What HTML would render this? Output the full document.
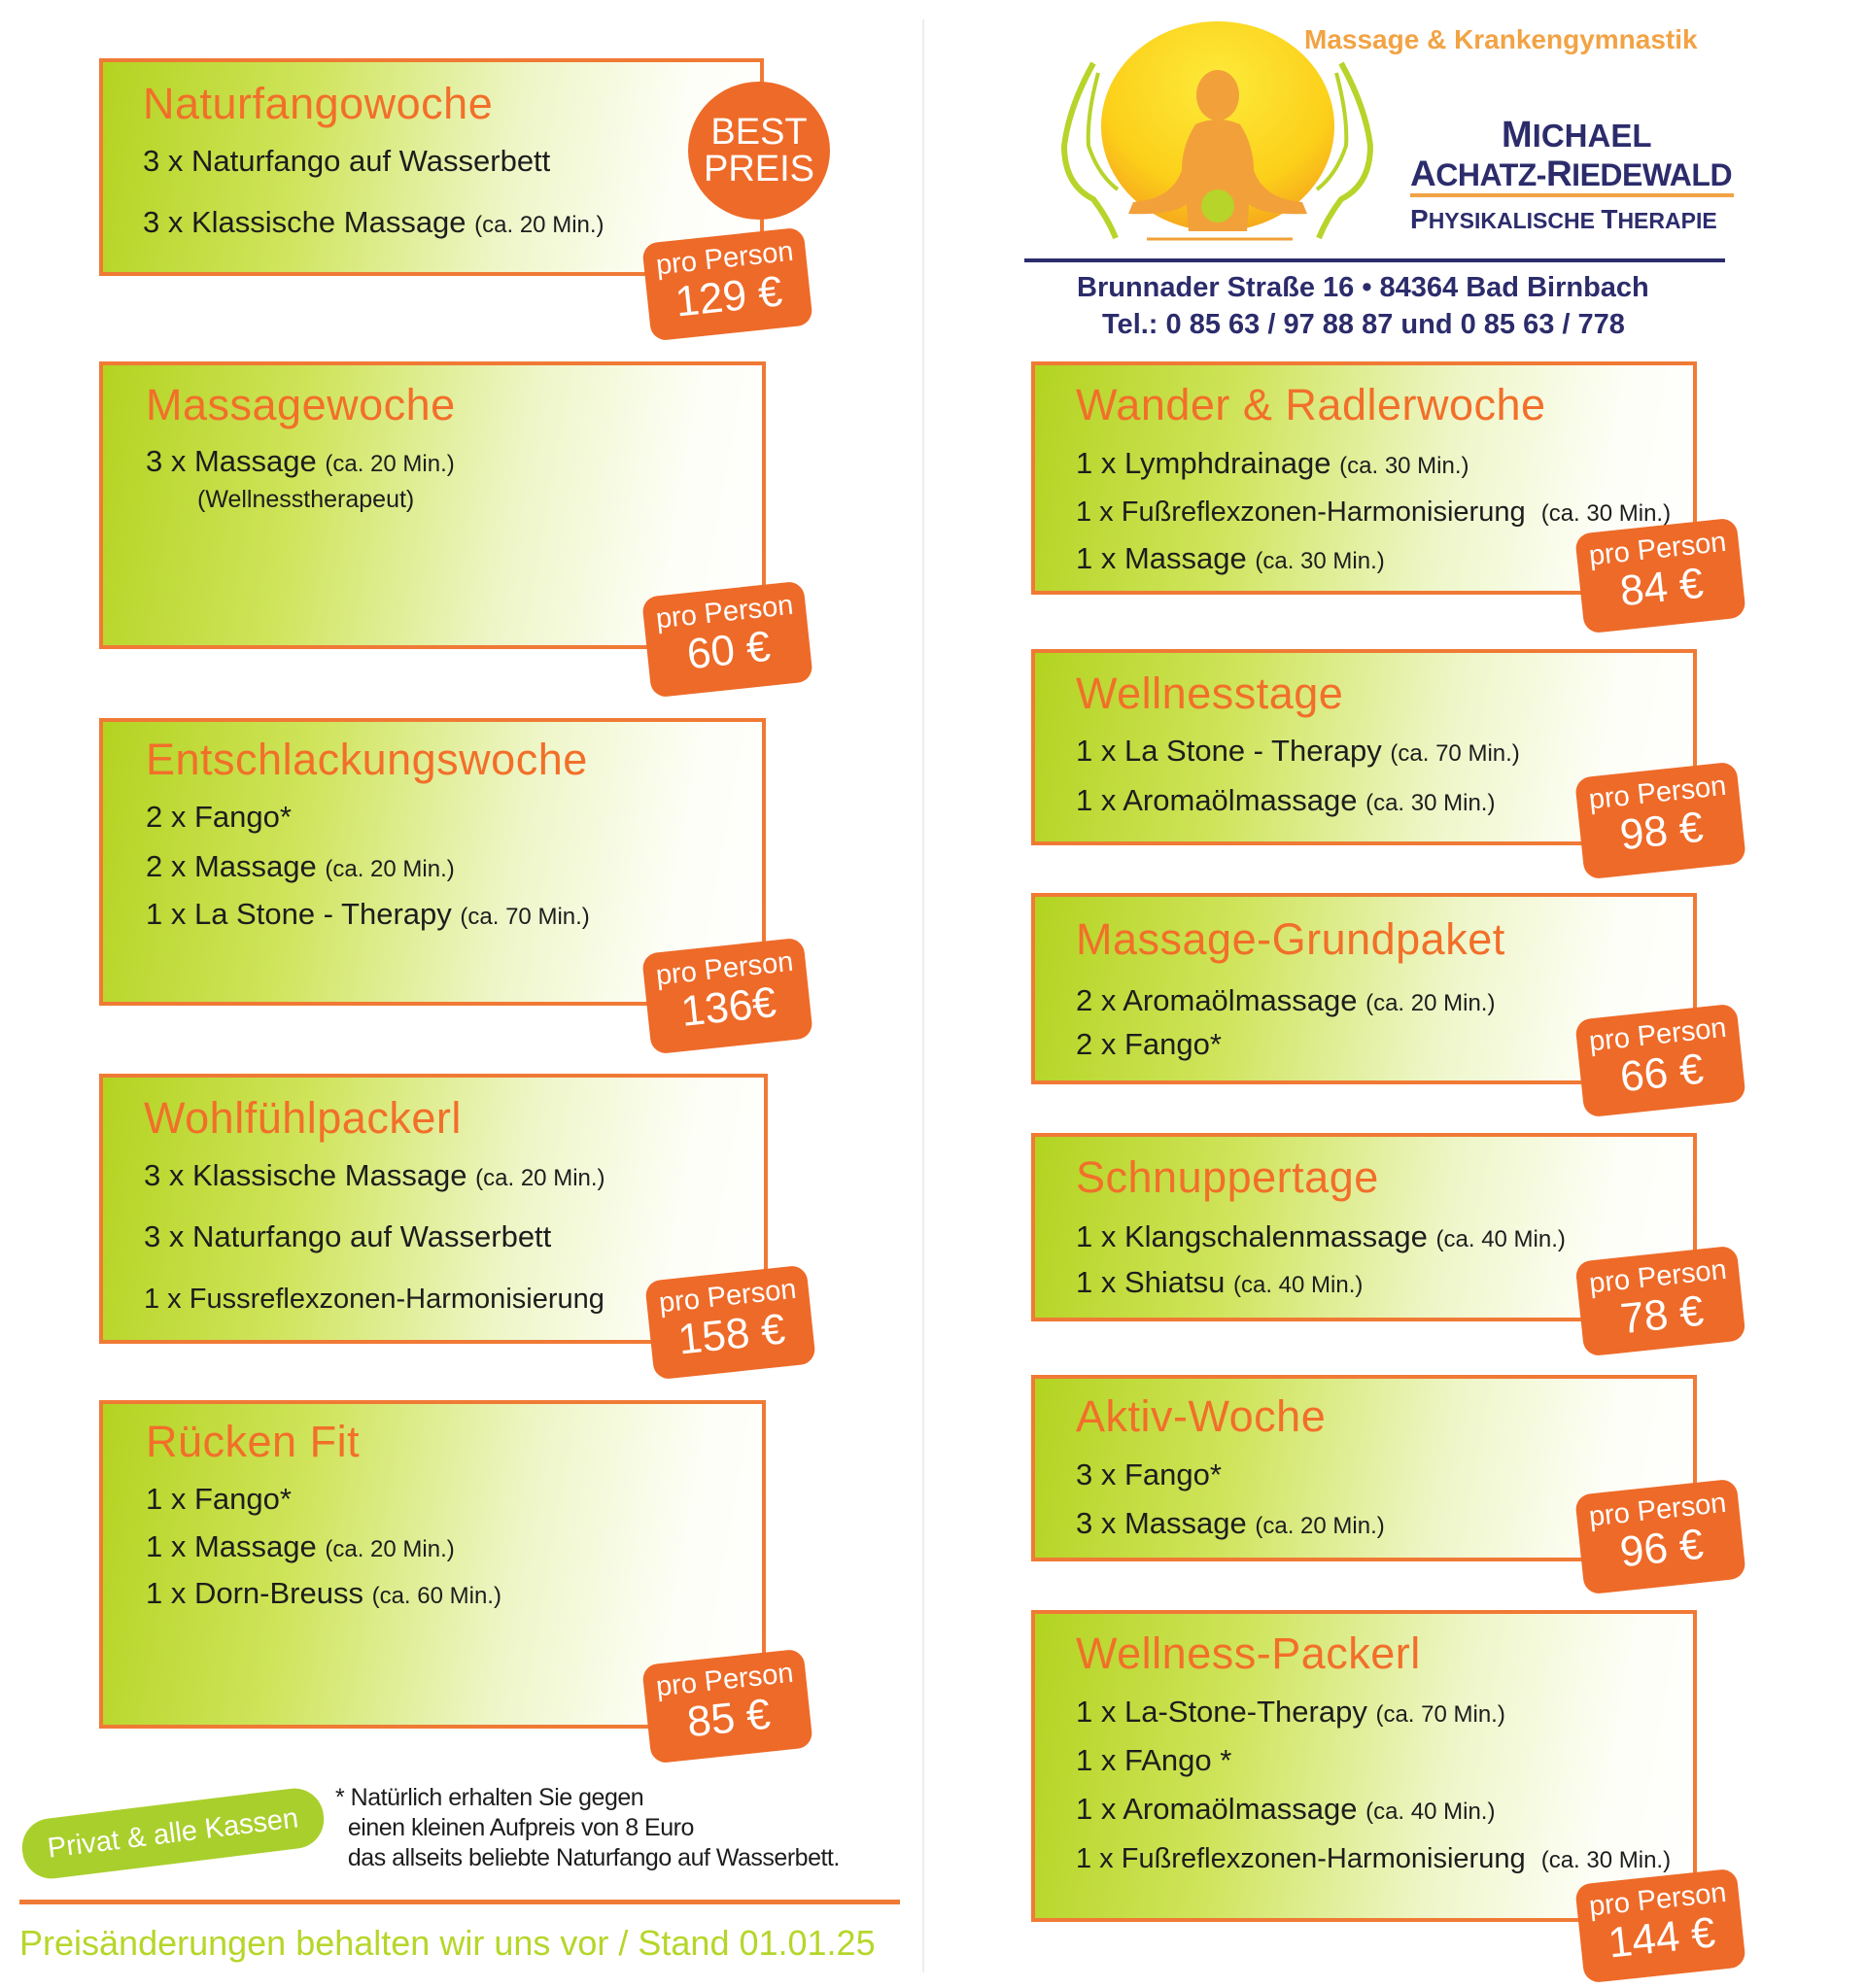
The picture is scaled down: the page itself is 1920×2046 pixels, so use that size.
<!DOCTYPE html>
<html><head><meta charset="utf-8"><style>
body{margin:0;background:#fff;}
#pg{position:relative;width:1920px;height:2046px;overflow:hidden;background:#fff;font-family:"Liberation Sans",sans-serif;}
.box{position:absolute;border:4px solid #f07a35;box-sizing:border-box;background:linear-gradient(100deg,#b3d320 0%,#cfe45a 30%,#eef6c8 62%,#fdfef6 85%,#fff 100%);}
.t{position:absolute;font-size:45px;line-height:48px;color:#f26f2a;white-space:nowrap;letter-spacing:0.5px;}
.i{position:absolute;font-size:31px;line-height:32px;color:#1d1d1d;white-space:nowrap;}
.i small{font-size:24px;}
.tag{position:absolute;background:#ee6a28;border-radius:16px;color:#fff;text-align:center;transform:rotate(-6deg);box-sizing:border-box;padding-top:8px;}
.tag .p{font-size:29px;line-height:32px;}
.tag .v{font-size:44px;line-height:48px;}
.nv{position:absolute;color:#2c2c6c;font-weight:bold;white-space:nowrap;}
</style></head><body><div id="pg">
<div style="position:absolute;left:949px;top:20px;width:2px;height:2010px;background:#eeeeee"></div>

<div class="box" style="left:102px;top:60px;width:684px;height:224px"></div>
<div class="t" style="left:147px;top:83px">Naturfangowoche</div>
<div class="i" style="left:147px;top:150px">3 x Naturfango auf Wasserbett</div>
<div class="i" style="left:147px;top:213px">3 x Klassische Massage <small>(ca. 20 Min.)</small></div>
<div style="position:absolute;left:708px;top:84px;width:146px;height:142px;border-radius:50%;background:#ee6a28;color:#fff;text-align:center;font-size:38px;line-height:38px;padding-top:33px;box-sizing:border-box">BEST<br>PREIS</div>
<div class="tag" style="left:665px;top:242px;width:167px;height:101px"><div class="p">pro Person</div><div class="v">129 €</div></div>

<div class="box" style="left:102px;top:372px;width:686px;height:296px"></div>
<div class="t" style="left:150px;top:393px">Massagewoche</div>
<div class="i" style="left:150px;top:459px">3 x Massage <small>(ca. 20 Min.)</small></div>
<div class="i" style="left:203px;top:498px;font-size:25px">(Wellnesstherapeut)</div>
<div class="tag" style="left:665px;top:606px;width:167px;height:104px"><div class="p">pro Person</div><div class="v">60 €</div></div>

<div class="box" style="left:102px;top:739px;width:686px;height:296px"></div>
<div class="t" style="left:150px;top:758px">Entschlackungswoche</div>
<div class="i" style="left:150px;top:825px">2 x Fango*</div>
<div class="i" style="left:150px;top:876px">2 x Massage <small>(ca. 20 Min.)</small></div>
<div class="i" style="left:150px;top:925px">1 x La Stone - Therapy <small>(ca. 70 Min.)</small></div>
<div class="tag" style="left:665px;top:973px;width:167px;height:104px"><div class="p">pro Person</div><div class="v">136€</div></div>

<div class="box" style="left:102px;top:1105px;width:688px;height:278px"></div>
<div class="t" style="left:148px;top:1127px">Wohlfühlpackerl</div>
<div class="i" style="left:148px;top:1194px">3 x Klassische Massage <small>(ca. 20 Min.)</small></div>
<div class="i" style="left:148px;top:1257px">3 x Naturfango auf Wasserbett</div>
<div class="i" style="left:148px;top:1321px;font-size:29px">1 x Fussreflexzonen-Harmonisierung</div>
<div class="tag" style="left:668px;top:1310px;width:167px;height:102px"><div class="p">pro Person</div><div class="v">158 €</div></div>

<div class="box" style="left:102px;top:1441px;width:686px;height:338px"></div>
<div class="t" style="left:150px;top:1460px">Rücken Fit</div>
<div class="i" style="left:150px;top:1527px">1 x Fango*</div>
<div class="i" style="left:150px;top:1576px">1 x Massage <small>(ca. 20 Min.)</small></div>
<div class="i" style="left:150px;top:1624px">1 x Dorn-Breuss <small>(ca. 60 Min.)</small></div>
<div class="tag" style="left:665px;top:1705px;width:167px;height:102px"><div class="p">pro Person</div><div class="v">85 €</div></div>

<div style="position:absolute;left:22px;top:1856px;width:312px;height:62px;border-radius:30px;background:#a9cf2c;color:#fff;font-size:29px;line-height:62px;text-align:center;transform:rotate(-7deg)">Privat &amp; alle Kassen</div>
<div style="position:absolute;left:345px;top:1835px;font-size:25px;line-height:31px;color:#1d1d1d;white-space:nowrap;letter-spacing:-0.5px">* Natürlich erhalten Sie gegen<br>&nbsp;&nbsp;einen kleinen Aufpreis von 8 Euro<br>&nbsp;&nbsp;das allseits beliebte Naturfango auf Wasserbett.</div>
<div style="position:absolute;left:20px;top:1955px;width:906px;height:5px;background:#f07a35"></div>
<div style="position:absolute;left:20px;top:1980px;font-size:36px;line-height:40px;color:#b5d62a;white-space:nowrap;letter-spacing:0px">Preisänderungen behalten wir uns vor / Stand 01.01.25</div>

<div style="position:absolute;left:1342px;top:25px;font-size:28px;line-height:32px;color:#f2a344;font-weight:bold;white-space:nowrap">Massage &amp; Krankengymnastik</div>
<svg style="position:absolute;left:1070px;top:0" width="360" height="260" viewBox="1070 0 360 260">
<defs><radialGradient id="sg" cx="50%" cy="30%" r="70%"><stop offset="0" stop-color="#fdea3a"/><stop offset="0.7" stop-color="#fcd01a"/><stop offset="1" stop-color="#f6a81c"/></radialGradient></defs>
<ellipse cx="1253" cy="130" rx="120" ry="108" fill="url(#sg)"/>
<ellipse cx="1253" cy="98" rx="22" ry="26" fill="#f2a03a"/>
<path d="M1230 128 Q1253 118 1276 128 Q1290 150 1290 175 Q1300 205 1340 208 L1345 220 Q1300 222 1285 210 L1283 238 L1223 238 L1221 210 Q1206 222 1161 220 L1166 208 Q1206 205 1216 175 Q1216 150 1230 128Z" fill="#f2a03a"/>
<circle cx="1253" cy="212" r="17" fill="#b6d42a"/>
<line x1="1180" y1="246" x2="1330" y2="246" stroke="#f2a03a" stroke-width="3"/>
<path d="M1125 65 Q1100 110 1095 150 Q1095 190 1125 205 Q1140 225 1148 245" fill="none" stroke="#b6d42a" stroke-width="6"/>
<path d="M1130 75 Q1118 120 1120 150 Q1130 180 1150 195" fill="none" stroke="#b6d42a" stroke-width="4"/>
<path d="M1380 65 Q1405 110 1410 150 Q1410 190 1380 205 Q1365 225 1357 245" fill="none" stroke="#b6d42a" stroke-width="6"/>
<path d="M1375 75 Q1387 120 1385 150 Q1375 180 1355 195" fill="none" stroke="#b6d42a" stroke-width="4"/>
</svg>
<div class="nv" style="left:1545px;top:118px;font-size:33px"><span style="font-size:38px">M</span>ICHAEL</div>
<div class="nv" style="left:1451px;top:158px;font-size:32px;letter-spacing:-0.5px"><span style="font-size:37px">A</span>CHATZ-<span style="font-size:37px">R</span>IEDEWALD</div>
<div style="position:absolute;left:1451px;top:199px;width:333px;height:4px;background:#f2a344"></div>
<div class="nv" style="left:1451px;top:210px;font-size:23px"><span style="font-size:28px">P</span>HYSIKALISCHE <span style="font-size:28px">T</span>HERAPIE</div>
<div style="position:absolute;left:1054px;top:266px;width:721px;height:4px;background:#2c2c6c"></div>
<div class="nv" style="left:1108px;top:280px;font-size:29px">Brunnader Straße 16 • 84364 Bad Birnbach</div>
<div class="nv" style="left:1134px;top:318px;font-size:29px">Tel.: 0 85 63 / 97 88 87 und 0 85 63 / 778</div>

<div class="box" style="left:1061px;top:372px;width:685px;height:240px"></div>
<div class="t" style="left:1107px;top:393px">Wander &amp; Radlerwoche</div>
<div class="i" style="left:1107px;top:461px">1 x Lymphdrainage <small>(ca. 30 Min.)</small></div>
<div class="i" style="left:1107px;top:511px;font-size:29px">1 x Fußreflexzonen-Harmonisierung &nbsp;<small>(ca. 30 Min.)</small></div>
<div class="i" style="left:1107px;top:559px">1 x Massage <small>(ca. 30 Min.)</small></div>
<div class="tag" style="left:1625px;top:541px;width:167px;height:103px"><div class="p">pro Person</div><div class="v">84 €</div></div>

<div class="box" style="left:1061px;top:668px;width:685px;height:202px"></div>
<div class="t" style="left:1107px;top:690px">Wellnesstage</div>
<div class="i" style="left:1107px;top:757px">1 x La Stone - Therapy <small>(ca. 70 Min.)</small></div>
<div class="i" style="left:1107px;top:808px">1 x Aromaölmassage <small>(ca. 30 Min.)</small></div>
<div class="tag" style="left:1625px;top:792px;width:167px;height:105px"><div class="p">pro Person</div><div class="v">98 €</div></div>

<div class="box" style="left:1061px;top:919px;width:685px;height:197px"></div>
<div class="t" style="left:1107px;top:943px">Massage-Grundpaket</div>
<div class="i" style="left:1107px;top:1014px">2 x Aromaölmassage <small>(ca. 20 Min.)</small></div>
<div class="i" style="left:1107px;top:1059px">2 x Fango*</div>
<div class="tag" style="left:1625px;top:1041px;width:167px;height:101px"><div class="p">pro Person</div><div class="v">66 €</div></div>

<div class="box" style="left:1061px;top:1166px;width:685px;height:194px"></div>
<div class="t" style="left:1107px;top:1188px">Schnuppertage</div>
<div class="i" style="left:1107px;top:1257px">1 x Klangschalenmassage <small>(ca. 40 Min.)</small></div>
<div class="i" style="left:1107px;top:1304px">1 x Shiatsu <small>(ca. 40 Min.)</small></div>
<div class="tag" style="left:1625px;top:1290px;width:167px;height:98px"><div class="p">pro Person</div><div class="v">78 €</div></div>

<div class="box" style="left:1061px;top:1415px;width:685px;height:192px"></div>
<div class="t" style="left:1107px;top:1434px">Aktiv-Woche</div>
<div class="i" style="left:1107px;top:1502px">3 x Fango*</div>
<div class="i" style="left:1107px;top:1552px">3 x Massage <small>(ca. 20 Min.)</small></div>
<div class="tag" style="left:1625px;top:1530px;width:167px;height:103px"><div class="p">pro Person</div><div class="v">96 €</div></div>

<div class="box" style="left:1061px;top:1657px;width:685px;height:321px"></div>
<div class="t" style="left:1107px;top:1678px">Wellness-Packerl</div>
<div class="i" style="left:1107px;top:1746px">1 x La-Stone-Therapy <small>(ca. 70 Min.)</small></div>
<div class="i" style="left:1107px;top:1796px">1 x FAngo *</div>
<div class="i" style="left:1107px;top:1846px">1 x Aromaölmassage <small>(ca. 40 Min.)</small></div>
<div class="i" style="left:1107px;top:1897px;font-size:29px">1 x Fußreflexzonen-Harmonisierung &nbsp;<small>(ca. 30 Min.)</small></div>
<div class="tag" style="left:1625px;top:1931px;width:167px;height:102px"><div class="p">pro Person</div><div class="v">144 €</div></div>
</div></body></html>
